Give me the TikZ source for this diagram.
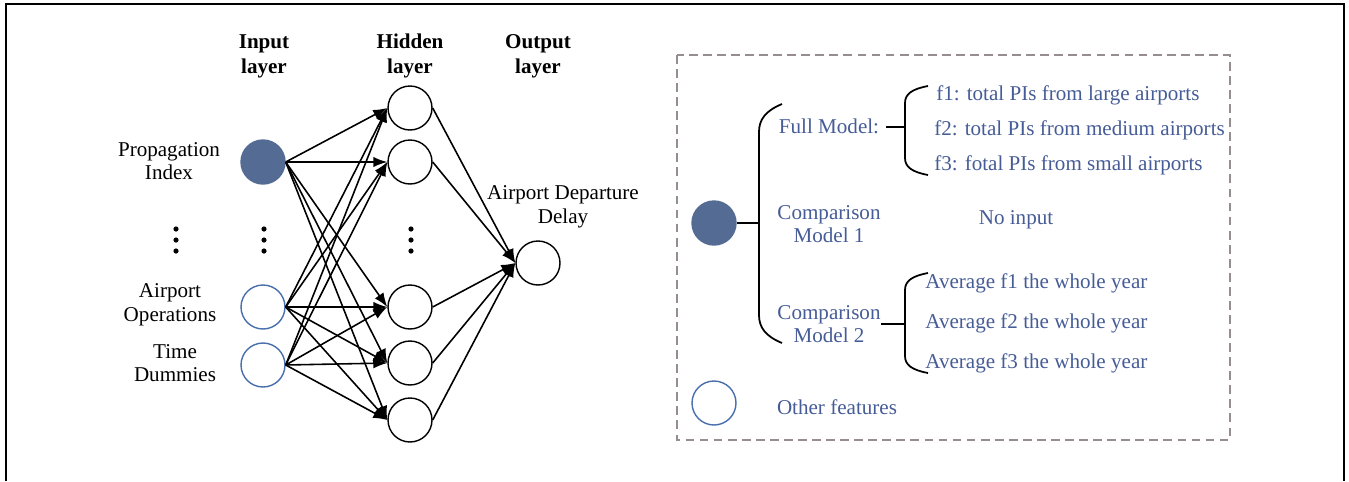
\documentclass[tikz,border=0pt]{standalone}
\usepackage{fontspec}
\setmainfont{Liberation Serif}
\usetikzlibrary{arrows.meta,positioning}
\definecolor{cText}{RGB}{70,92,150}
\definecolor{cFill}{RGB}{84,107,148}
\definecolor{cRing}{RGB}{72,110,172}
\definecolor{cDash}{RGB}{150,142,142}

\tikzset{
  neuron/.style={circle,draw=black,line width=0.8pt,minimum size=0.88cm,inner sep=0pt},
  featA/.style={neuron,draw=cFill,fill=cFill},
  featB/.style={neuron,draw=cRing},
  conn/.style={-{Latex[length=8pt,width=6pt]},line width=0.9pt},
  lbl/.style={font=\fontsize{12}{13.5}\selectfont,align=center,inner sep=0pt},
  hdr/.style={lbl,font=\fontsize{12}{14.2}\selectfont\bfseries},
  bluelbl/.style={lbl,text=cText},
  brace/.style={line width=1pt}
}

\begin{document}
\begin{tikzpicture}[x=0.02cm,y=-0.02cm]
  \useasboundingbox (0,0) rectangle (1349,481);
  % outer frame, open at the bottom
  \draw[line width=1.2pt] (6,481) -- (6,4) -- (1344,4) -- (1344,481);

  % layer titles
  \node[hdr] (tIn) at (264,56) {Input\\layer};
  \node[hdr] (tHid) at (410,56) {Hidden\\layer};
  \node[hdr] (tOut) at (538,56) {Output\\layer};

  % network
  \node[featA] (i1) at (263,162) {};
  \node[featB] (i2) at (263,307) {};
  \node[featB] (i3) at (263,365) {};
  \foreach \n/\y in {1/108,2/162,3/307,4/363,5/420}
    \node[neuron] (h\n) at (410,\y) {};
  \node[neuron] (o) at (538,263) {};
  \foreach \x in {176,264,411}
    \foreach \y in {229,240,251}
      \fill (\x,\y) circle (2.6);
  \foreach \i in {1,2,3}
    \foreach \h in {1,...,5}
      \draw[conn] (i\i.east) -- (h\h.west);
  \foreach \h in {1,...,5}
    \draw[conn] (h\h.east) -- (o.west);

  \node[lbl] (lPI) at (169,161) {Propagation\\Index};
  \node[lbl] (lAO) at (170,305) {Airport\\Operations};
  \node[lbl] (lTD) at (175,363) {Time\\Dummies};
  \node[lbl] (lDel) at (563,207) {Airport Departure\\Delay};

  % legend box
  \draw[cDash,line width=0.8pt,dash pattern=on 5pt off 3pt] (677,55) rectangle (1230,440);
  \node[featA] (kA) at (714,223) {};
  \node[featB] (kB) at (714,403) {};
  \coordinate (bA) at (759,223);
  \draw[brace] (kA) -- (bA);
  \draw[brace] (782,104) .. controls (765,111) and (759,120) .. (759,132)
    -- (759,315) .. controls (759,327) and (765,336) .. (782,343);

  \node[bluelbl] (mFull) at (829,126) {Full Model:};
  \node[bluelbl] (mC1) at (829,224) {Comparison\\Model 1};
  \node[bluelbl] (mC2) at (829,324) {Comparison\\Model 2};
  \node[bluelbl] (mOther) at (837,407) {Other features};
  \node[bluelbl] (noIn) at (1016,220) {No input};

  % feature lists
  \coordinate (bF) at (905,127);
  \coordinate (bC) at (905,324);
  \draw[brace] ([xshift=4pt]mFull.east |- bF) -- (bF);
  \draw[brace] (mC2.east |- bC) -- (bC);
  \draw[brace] (928,86) .. controls (912,89) and (905,94) .. (905,103)
    -- (905,158) .. controls (905,167) and (912,172) .. (928,175);
  \draw[brace] (928,273) .. controls (912,276) and (905,281) .. (905,290)
    -- (905,356) .. controls (905,365) and (912,370) .. (928,373);
  \node[bluelbl,anchor=west] (f1) at (936,95) {f1: total PIs from large airports};
  \node[bluelbl,anchor=west] (f2) at (934,130) {f2: total PIs from medium airports};
  \node[bluelbl,anchor=west] (f3) at (934,165) {f3: fotal PIs from small airports};
  \foreach \k/\y in {1/283,2/323,3/363}
    \node[bluelbl,anchor=west] (avg\k) at (925,\y) {Average f\k{} the whole year};
\end{tikzpicture}
\end{document}
